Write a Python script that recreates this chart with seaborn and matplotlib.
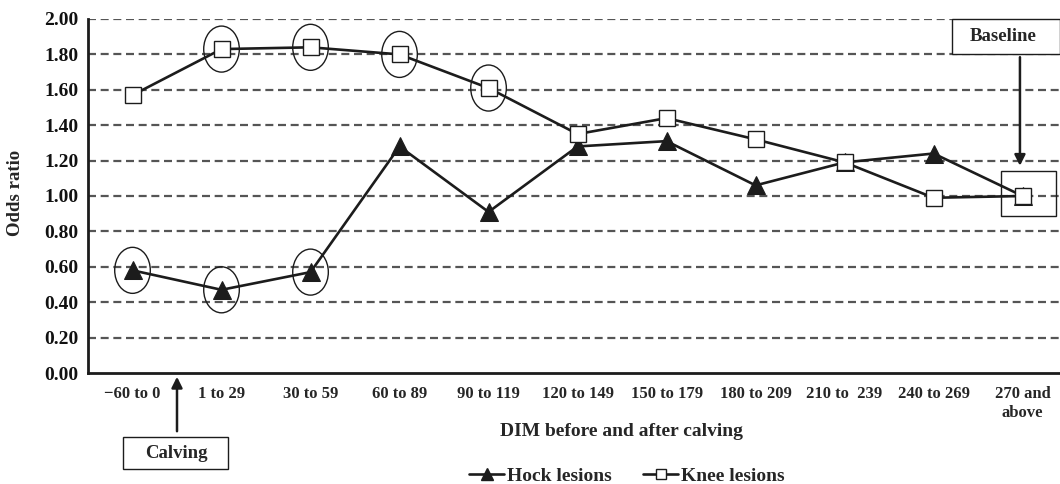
import matplotlib
matplotlib.use("Agg")
import matplotlib.pyplot as plt
from matplotlib.patches import Ellipse, Rectangle
from matplotlib.lines import Line2D
import seaborn as sns
import pandas as pd

categories = ["\u221260 to 0", "1 to 29", "30 to 59", "60 to 89", "90 to 119",
              "120 to 149", "150 to 179", "180 to 209", "210 to  239",
              "240 to 269", "270 and\nabove"]
hock = [0.58, 0.47, 0.57, 1.28, 0.91, 1.28, 1.31, 1.06, 1.19, 1.24, 1.00]
knee = [1.57, 1.83, 1.84, 1.80, 1.61, 1.35, 1.44, 1.32, 1.19, 0.99, 1.00]
yticks = [0.0, 0.2, 0.4, 0.6, 0.8, 1.0, 1.2, 1.4, 1.6, 1.8, 2.0]
circled_hock = [0, 1, 2]
circled_knee = [1, 2, 3, 4]
baseline_idx = 10

sns.set_style("white")
plt.rcParams["font.family"] = ["Liberation Serif", "DejaVu Serif"]
plt.rcParams["font.weight"] = "bold"

df = pd.DataFrame({"pos": list(range(len(categories))), "hock": hock, "knee": knee})

W, H = 1060, 484
fig = plt.figure(figsize=(W / 100, H / 100), dpi=100)
ax = fig.add_axes([88 / W, (H - 373) / H, (W - 88) / W, (373 - 19) / H])

ink = "#1c1c1c"
sns.lineplot(data=df, x="pos", y="hock", ax=ax, color=ink, lw=1.9, marker="^",
             markersize=13, markerfacecolor=ink, markeredgecolor=ink, zorder=4)
sns.lineplot(data=df, x="pos", y="knee", ax=ax, color=ink, lw=1.9, marker="s",
             markersize=12, markerfacecolor="white", markeredgecolor=ink,
             markeredgewidth=1.0, zorder=5)

ax.set_xlim(-0.5, 10.42)
ax.set_ylim(0, 2.0)

for y in yticks[1:]:
    ax.axhline(y, color="#555555", lw=1.6, ls=(0, (3.6, 2.1)), zorder=1)

ax.set_yticks(yticks)
ax.set_yticklabels([f"{v:.2f}" for v in yticks], fontsize=14, fontweight="bold")
ax.set_xticks([i + 0.5 for i in range(len(categories) - 1)])
ax.set_xticklabels([])
ax.set_xticks(list(range(len(categories))), minor=True)
ax.set_xticklabels(categories, minor=True, fontsize=12, fontweight="bold",
                   linespacing=1.3)
ax.tick_params(axis="x", which="minor", length=0, pad=9)
ax.tick_params(axis="x", which="major", length=5, width=1.8, color=ink, direction="out")
ax.tick_params(axis="y", length=5, width=1.8, color=ink, direction="out", pad=2)
ax.tick_params(axis="both", colors=ink, labelcolor="#111111")
ax.tick_params(axis="x", which="major", colors=ink)

for s in ["top", "right"]:
    ax.spines[s].set_visible(False)
for s in ["left", "bottom"]:
    ax.spines[s].set_color(ink)
    ax.spines[s].set_linewidth(2.0)

ax.set_xlabel("")
ax.set_ylabel("")
fig.text(15 / W, 1 - 193 / H, "Odds ratio", rotation=90, ha="center", va="center",
         fontsize=13.5, fontweight="bold")
fig.text(622 / W, 1 - 432 / H, "DIM before and after calving", ha="center",
         va="center", fontsize=14, fontweight="bold")

# circles
for i in circled_hock:
    ax.add_patch(Ellipse((i, hock[i]), 0.40, 0.26, fill=False, ec=ink, lw=1.0, zorder=6))
for i in circled_knee:
    ax.add_patch(Ellipse((i, knee[i]), 0.40, 0.26, fill=False, ec=ink, lw=1.0, zorder=6))

# baseline square
ax.add_patch(Rectangle((baseline_idx - 0.24, 0.885), 0.61, 0.256, fill=False,
                       ec=ink, lw=1.0, zorder=6, clip_on=False))
# baseline label box
ax.add_patch(Rectangle((9.21, 1.80), 1.21, 0.20, facecolor="white", ec=ink, lw=1.0,
                       zorder=7, clip_on=False))
ax.text(9.78, 1.90, "Baseline", ha="center", va="center", fontsize=13.5,
        fontweight="bold", zorder=8)
ax.annotate("", xy=(9.97, 1.155), xytext=(9.97, 1.80),
            arrowprops=dict(arrowstyle="-|>", color=ink, lw=1.8, mutation_scale=16),
            zorder=8)

# calving box and arrow (figure coords)
fig.patches.append(Rectangle((123 / W, 1 - 469 / H), 105 / W, 32 / H, fill=False,
                             ec=ink, lw=1.0, transform=fig.transFigure))
fig.text(176 / W, 1 - 453 / H, "Calving", ha="center", va="center", fontsize=13.5,
         fontweight="bold")
ax.annotate("", xy=(177 / W, 1 - 374 / H), xytext=(177 / W, 1 - 434 / H),
            xycoords="figure fraction", textcoords="figure fraction",
            arrowprops=dict(arrowstyle="-|>", color=ink, lw=1.8, mutation_scale=16))

handles = [
    Line2D([], [], color=ink, lw=1.9, marker="^", markersize=8, markerfacecolor=ink,
           markeredgecolor=ink),
    Line2D([], [], color=ink, lw=1.9, marker="s", markersize=7, markerfacecolor="white",
           markeredgecolor=ink),
]
fig.legend(handles, ["Hock lesions", "Knee lesions"], loc="center",
           bbox_to_anchor=(627 / W, 1 - 476 / H), ncol=2, frameon=False,
           prop={"size": 14, "weight": "bold"}, handlelength=1.8, handletextpad=0.15,
           columnspacing=1.6, borderpad=0)

fig.savefig("out.png", dpi=100)
